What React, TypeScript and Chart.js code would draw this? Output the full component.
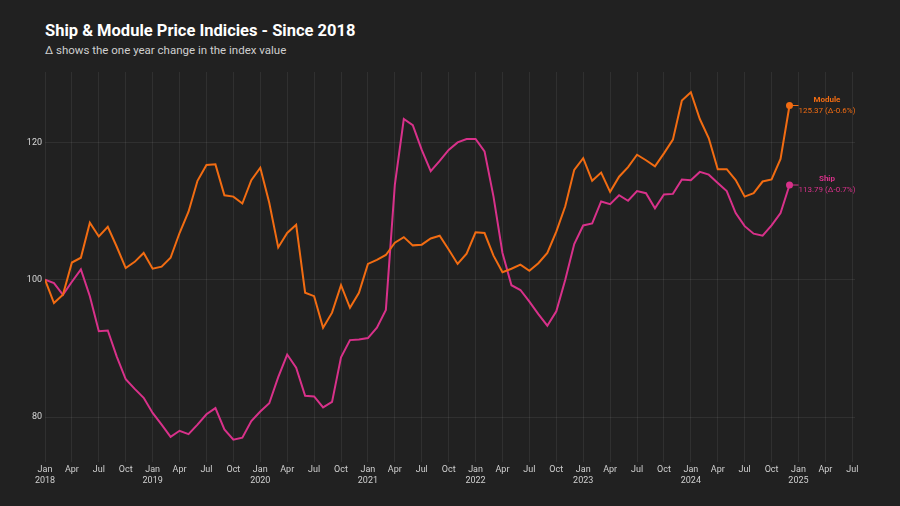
import React, { useEffect, useRef } from "react";
import { Chart, registerables } from "chart.js";

Chart.register(...registerables);

// Monthly index values, Jan 2018 .. Dec 2024 (Jan 2018 = 100)
const startYear = 2018;
const moduleValues = [
  100.0, 96.6, 97.8, 102.5, 103.2, 108.3, 106.3, 107.7, 104.8, 101.7, 102.6, 103.9,
  101.6, 101.9, 103.2, 106.8, 109.9, 114.4, 116.7, 116.8, 112.3, 112.1, 111.1, 114.5,
  116.3, 111.2, 104.7, 106.8, 108.0, 98.1, 97.6, 93.0, 95.2, 99.2, 95.9, 98.1,
  102.3, 102.9, 103.6, 105.4, 106.2, 105.0, 105.1, 106.0, 106.4, 104.4, 102.3, 103.8,
  106.9, 106.8, 103.5, 101.1, 101.6, 102.2, 101.3, 102.4, 103.9, 107.0, 110.7, 116.0,
  117.7, 114.4, 115.6, 112.8, 115.0, 116.4, 118.2, 117.4, 116.5, 118.4, 120.4, 126.1,
  127.3, 123.4, 120.6, 116.1, 116.1, 114.5, 112.1, 112.6, 114.3, 114.6, 117.6, 125.37,
];
const shipValues = [
  100.0, 99.5, 97.8, 99.7, 101.5, 97.6, 92.5, 92.6, 88.8, 85.5, 84.1, 82.8,
  80.6, 78.9, 77.1, 78.0, 77.5, 78.9, 80.4, 81.3, 78.2, 76.7, 77.0, 79.4,
  80.8, 82.0, 85.8, 89.1, 87.2, 83.1, 83.0, 81.4, 82.2, 88.7, 91.2, 91.3,
  91.5, 93.0, 95.6, 113.8, 123.4, 122.5, 118.9, 115.8, 117.3, 118.9, 120.0, 120.5,
  120.5, 118.7, 112.1, 103.9, 99.2, 98.5, 96.8, 95.0, 93.3, 95.4, 100.0, 105.2,
  107.9, 108.2, 111.4, 111.0, 112.3, 111.5, 112.9, 112.6, 110.4, 112.4, 112.5, 114.6,
  114.5, 115.7, 115.3, 114.1, 112.9, 109.7, 107.8, 106.7, 106.4, 107.9, 109.7, 113.79,
];
const seriesNames = ["Module", "Ship"];
const seriesColors = ["#f26c12", "#d8318a"];
const monthNames = ["Jan", "Feb", "Mar", "Apr", "May", "Jun", "Jul", "Aug", "Sep", "Oct", "Nov", "Dec"];
const xTickMonths = Array.from({ length: 31 }, (_, i) => i * 3); // Jan 2018 .. Jul 2025
const yTickValues = [80, 100, 120];

const endLabelPlugin = {
  id: "endLabels",
  afterDatasetsDraw(chart: any) {
    const ctx = chart.ctx;
    chart.data.datasets.forEach((ds: any, di: number) => {
      const meta = chart.getDatasetMeta(di);
      const pt = meta.data[meta.data.length - 1];
      if (!pt) return;
      const vals = ds.data.map((d: any) => d.y);
      const last = vals[vals.length - 1];
      const prev = vals[vals.length - 13];
      const delta = ((last / prev - 1) * 100).toFixed(1);
      const color = ds.borderColor;
      ctx.save();
      ctx.strokeStyle = color;
      ctx.lineWidth = 1;
      ctx.beginPath();
      ctx.moveTo(pt.x, pt.y);
      ctx.lineTo(pt.x + 9, pt.y);
      ctx.stroke();
      ctx.beginPath();
      ctx.fillStyle = color;
      ctx.arc(pt.x, pt.y, 3.5, 0, Math.PI * 2);
      ctx.fill();
      const valueText = `${last.toFixed(2)} (\u0394${delta}%)`;
      ctx.font = "8px Roboto";
      const w = ctx.measureText(valueText).width;
      const x0 = pt.x + 9;
      ctx.textBaseline = "middle";
      ctx.textAlign = "left";
      ctx.fillText(valueText, x0, pt.y + 5);
      ctx.font = "bold 8px Roboto";
      ctx.textAlign = "center";
      ctx.fillText(ds.label, x0 + w / 2, pt.y - 6);
      ctx.restore();
    });
  },
};

export default function App() {
  const canvasRef = useRef<HTMLCanvasElement | null>(null);

  useEffect(() => {
    document.body.style.margin = "0";
    document.body.style.background = "#212121";
    const canvas = canvasRef.current;
    if (!canvas) return;
    const toPoints = (arr: number[]) => arr.map((v, i) => ({ x: i, y: v }));
    const chart = new Chart(canvas, {
      type: "line",
      data: {
        datasets: [moduleValues, shipValues].map((vals, i) => ({
          label: seriesNames[i],
          data: toPoints(vals),
          borderColor: seriesColors[i],
          backgroundColor: seriesColors[i],
          borderWidth: 2,
          pointRadius: 0,
          tension: 0,
          fill: false,
        })),
      },
      options: {
        responsive: false,
        animation: false,
        layout: { padding: { top: 72, right: 45, left: 0, bottom: 0 } },
        plugins: {
          legend: { display: false },
          tooltip: { enabled: false },
          title: { display: false },
        },
        scales: {
          x: {
            type: "linear",
            min: 0,
            max: 90.3,
            afterBuildTicks: (scale: any) => {
              scale.ticks = xTickMonths.map((v) => ({ value: v }));
            },
            afterFit: (scale: any) => {
              scale.height = 44;
            },
            grid: { color: "rgba(255,255,255,0.07)", drawTicks: false },
            border: { display: false },
            ticks: {
              autoSkip: false,
              maxRotation: 0,
              padding: 2,
              color: "#d0d0d0",
              font: { family: "Roboto", size: 9, lineHeight: 1.25 },
              callback: (value: any) => {
                const m = Number(value);
                const mi = ((m % 12) + 12) % 12;
                const yr = startYear + Math.floor(m / 12);
                return mi === 0 ? [monthNames[mi], String(yr)] : monthNames[mi];
              },
            },
          },
          y: {
            type: "linear",
            min: 73.45,
            max: 130.25,
            afterBuildTicks: (scale: any) => {
              scale.ticks = yTickValues.map((v) => ({ value: v }));
            },
            afterFit: (scale: any) => {
              scale.width = 45;
            },
            grid: { color: "rgba(255,255,255,0.07)", drawTicks: false },
            border: { display: false },
            ticks: {
              padding: 3,
              color: "#d8d8d8",
              font: { family: "Roboto", size: 9 },
            },
          },
        },
      },
      plugins: [endLabelPlugin],
    } as any);
    return () => chart.destroy();
  }, []);

  return (
    <div style={{ position: "absolute", left: 0, top: 0, width: 900, height: 506, background: "#212121", overflow: "hidden" }}>
      <div style={{ position: "absolute", left: 45, top: 21, color: "#ffffff", fontFamily: "Roboto, sans-serif", fontWeight: 700, fontSize: 16.5, whiteSpace: "nowrap" }}>
        Ship &amp; Module Price Indicies - Since 2018
      </div>
      <div style={{ position: "absolute", left: 45, top: 43, color: "#cfcfcf", fontFamily: "Roboto, sans-serif", fontSize: 11.5, whiteSpace: "nowrap" }}>
        Δ shows the one year change in the index value
      </div>
      <canvas ref={canvasRef} width={900} height={506} style={{ position: "absolute", left: 0, top: 0, width: 900, height: 506 }} />
    </div>
  );
}
